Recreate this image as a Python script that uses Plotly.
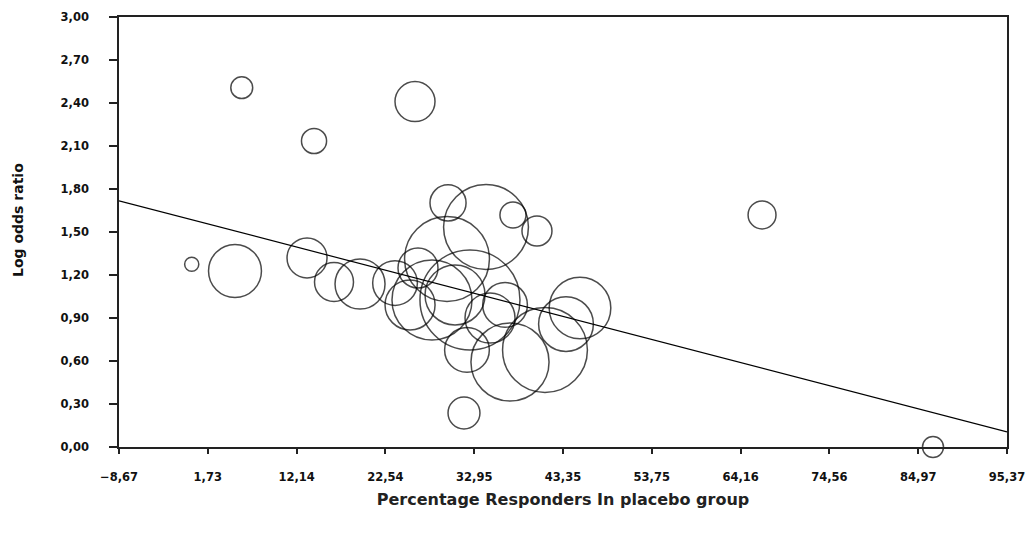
import numpy as np
import plotly.graph_objects as go

# Percentage responders in placebo group (x) and log odds ratio (y) per study
pct_placebo = [5.71, 26.01, 14.18, -0.15, 4.92, 13.36, 16.52, 19.57, 66.67, 86.70, 31.75,
               29.88, 34.33, 37.49, 40.30, 29.76, 23.67, 25.43, 28.00, 30.70, 32.45,
               34.80, 36.56, 32.10, 37.14, 41.24, 43.70, 45.34, 26.36]
log_or = [2.507, 2.41, 2.135, 1.275, 1.228, 1.319, 1.151, 1.137, 1.619, 0.0, 0.237,
          1.703, 1.535, 1.619, 1.507, 1.312, 1.144, 0.991, 1.026, 1.061, 1.026,
          0.900, 0.991, 0.677, 0.593, 0.677, 0.858, 0.970, 1.249]
weight = [4.8, 16, 6.3, 2.0, 28, 16, 15.2, 25, 7.8, 4.4, 10.2,
          13, 72, 6.8, 9, 72, 20, 25, 64, 36, 100,
          25, 20, 20, 61, 72, 30, 38, 16]

# meta-regression line
reg_intercept = 1.583
reg_slope = -0.01549

x_ticks = [-8.67, 1.73, 12.14, 22.54, 32.95, 43.35, 53.75, 64.16, 74.56, 84.97, 95.37]
y_ticks = [0.0, 0.3, 0.6, 0.9, 1.2, 1.5, 1.8, 2.1, 2.4, 2.7, 3.0]

x_min, x_max = x_ticks[0], x_ticks[-1]

fig = go.Figure()
fig.add_trace(go.Scatter(
    x=pct_placebo, y=log_or, mode="markers",
    marker=dict(size=[10 * np.sqrt(w) for w in weight], sizemode="diameter",
                color="rgba(0,0,0,0)", line=dict(color="#000", width=1.5)),
    hoverinfo="x+y", showlegend=False, cliponaxis=False,
))
reg_x = [x_min, x_max]
reg_y = [reg_intercept + reg_slope * v for v in reg_x]
fig.add_trace(go.Scatter(x=reg_x, y=reg_y, mode="lines",
                         line=dict(color="#000", width=1.2), showlegend=False))

tick_font = dict(family="DejaVu Sans, Arial, sans-serif", size=11.5, color="#111", weight="bold")
fig.update_layout(
    width=1032, height=535,
    margin=dict(l=119, r=25, t=17, b=88),
    paper_bgcolor="white", plot_bgcolor="white",
    separators=", ",
    font=dict(family="DejaVu Sans, Arial, sans-serif", color="#111"),
    xaxis=dict(range=[x_min, x_max], tickvals=x_ticks, tickformat=".2f",
               showgrid=False, zeroline=False, showline=True, mirror=True,
               linecolor="#222", linewidth=1.6, ticks="outside", ticklen=5,
               tickcolor="#222", tickwidth=1.5, automargin=False,
               tickfont=tick_font,
               ticklabelstandoff=13,
               title=dict(text="Percentage Responders In placebo group",
                          font=dict(family="DejaVu Sans, Arial, sans-serif", size=16,
                                    color="#222", weight="bold"),
                          standoff=11)),
    yaxis=dict(range=[0, 3], tickvals=y_ticks, tickformat=".2f",
               showgrid=False, zeroline=False, showline=True, mirror=True,
               linecolor="#222", linewidth=1.6, ticks="outside", ticklen=8,
               tickcolor="#222", tickwidth=1.5, automargin=False,
               tickfont=tick_font,
               ticklabelstandoff=18),
    annotations=[dict(text="Log odds ratio", textangle=-90, showarrow=False,
                      xref="paper", yref="paper", x=-0.1137, y=0.528,
                      xanchor="center", yanchor="middle",
                      font=dict(family="DejaVu Sans, Arial, sans-serif", size=14,
                                color="#111", weight="bold"))],
)
fig.write_html("out.html")
